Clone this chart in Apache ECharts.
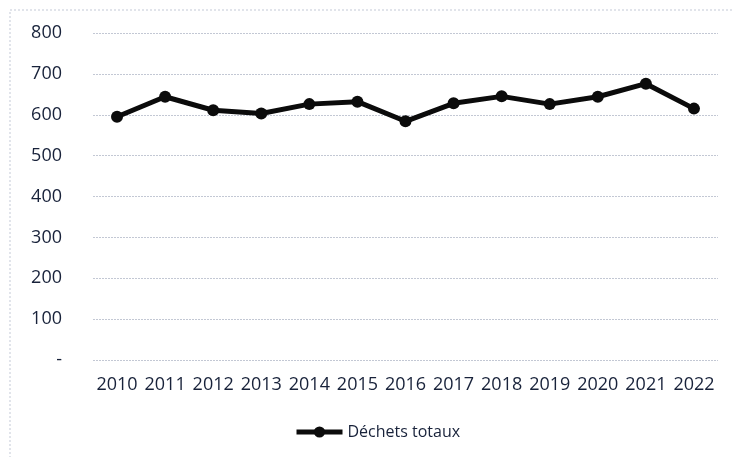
<!DOCTYPE html>
<html>
<head>
<meta charset="utf-8">
<script src="https://cdn.jsdelivr.net/npm/echarts@6/dist/echarts.min.js"></script>
<style>
html,body{margin:0;padding:0;background:#ffffff;}
#chart{width:732px;height:457px;}
</style>
</head>
<body>
<div id="chart"></div>
<script>
const years = ['2010','2011','2012','2013','2014','2015','2016','2017','2018','2019','2020','2021','2022'];
const dechetsTotaux = [595, 644, 611, 603, 626, 632, 584, 628, 645, 626, 644, 676, 615];
const seriesName = 'Déchets totaux';
const yMin = 0, yMax = 800, yStep = 100;

const chart = echarts.init(document.getElementById('chart'), null, {renderer: 'canvas'});
const textColor = '#18223a';
chart.setOption({
  backgroundColor: '#ffffff',
  animation: false,
  graphic: [{
    type: 'rect',
    shape: {x: 10, y: 10, width: 760, height: 480},
    style: {fill: 'none', stroke: '#c3c9d6', lineWidth: 1, lineDash: [2, 2]}
  }],
  grid: {left: 93, right: 14, top: 33, bottom: 97, containLabel: false},
  xAxis: {
    type: 'category',
    data: years,
    boundaryGap: true,
    axisLine: {show: false},
    axisTick: {show: false},
    axisLabel: {interval: 0, color: textColor, fontFamily: 'Open Sans', fontSize: 18, margin: 16}
  },
  yAxis: {
    type: 'value',
    min: yMin, max: yMax, interval: yStep,
    axisLine: {show: false},
    axisTick: {show: false},
    axisLabel: {
      color: textColor, fontFamily: 'Open Sans', fontSize: 18, margin: 31,
      formatter: v => v === 0 ? '-' : String(v)
    },
    splitLine: {show: true, lineStyle: {color: '#c3c8d4', type: [2, 1], width: 1}}
  },
  legend: {
    data: [seriesName],
    left: 294, top: 424, padding: 0,
    itemWidth: 46, itemHeight: 14, itemGap: 3,
    lineStyle: {width: 5},
    textStyle: {color: textColor, fontFamily: 'Open Sans', fontSize: 16}
  },
  series: [{
    name: seriesName,
    type: 'line',
    data: dechetsTotaux,
    symbol: 'circle',
    symbolSize: 12,
    lineStyle: {color: '#0b0b0b', width: 5},
    itemStyle: {color: '#0b0b0b'}
  }]
});
</script>
</body>
</html>
